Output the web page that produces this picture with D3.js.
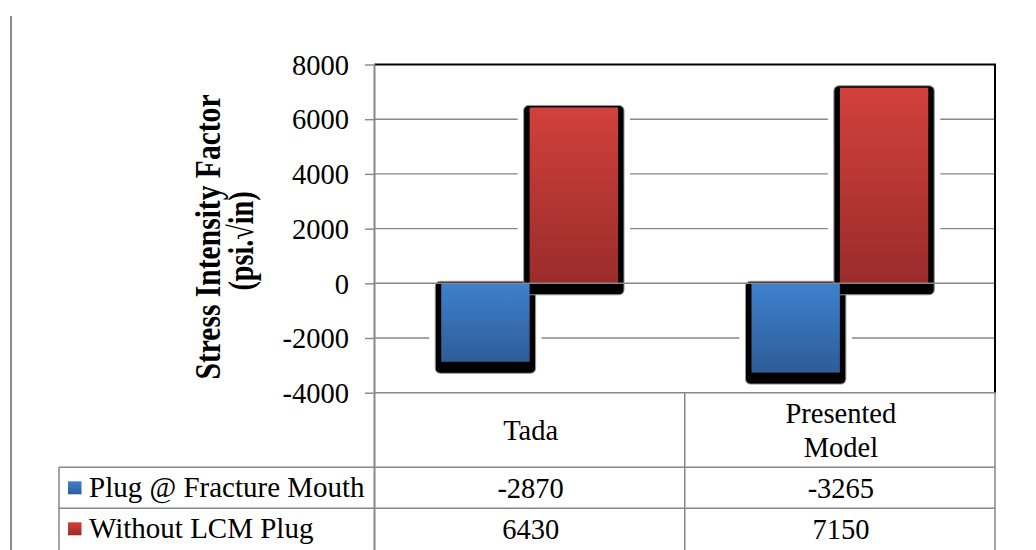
<!DOCTYPE html>
<html>
<head>
<meta charset="utf-8">
<script src="https://cdn.jsdelivr.net/npm/d3@7/dist/d3.min.js"></script>
<style>
  html, body { margin: 0; padding: 0; background: #fff; }
  svg { display: block; }
  text { font-family: "Liberation Serif", "Times New Roman", serif; fill: #000; }
</style>
</head>
<body>
<svg id="chart" width="1036" height="550"></svg>
<script>
// ---- data ----
const categories = ["Tada", "Presented Model"];
const categoryLabelLines = [["Tada"], ["Presented", "Model"]];
const seriesNames = ["Plug @ Fracture Mouth", "Without LCM Plug"];
const plugAtMouth = [-2870, -3265];
const withoutPlug = [6430, 7150];
const yTicks = [-4000, -2000, 0, 2000, 4000, 6000, 8000];
const yTitleLines = ["Stress Intensity Factor", "(psi.\u221Ain)"];

const seriesValues = [plugAtMouth, withoutPlug];

// ---- layout ----
const svg = d3.select("#chart");
const plot = { left: 374.5, right: 995, top: 64.5, bottom: 392.7 };
const rowLines = [467.3, 508.3, 549.3];
const tableLeft = 59;
const barWidth = 88.4;
const gridColor = "#878787";

const y = d3.scaleLinear().domain([d3.min(yTicks), d3.max(yTicks)]).range([plot.bottom, plot.top]);
const x = d3.scaleBand().domain(categories).range([plot.left, plot.right]).padding(0);
const xs = d3.scaleBand().domain(seriesNames).range([-barWidth, barWidth]).padding(0);

// gradients for the bar fills
const defs = svg.append("defs");
const gradStops = [["#3E81CE", "#2E5C97"], ["#D2403C", "#9A2C2A"]];
gradStops.forEach((s, i) => {
  const g = defs.append("linearGradient").attr("id", "grad" + i)
    .attr("x1", 0).attr("y1", 0).attr("x2", 0).attr("y2", 1);
  g.append("stop").attr("offset", "0%").attr("stop-color", s[0]);
  g.append("stop").attr("offset", "100%").attr("stop-color", s[1]);
});

// outer frame line on the left
svg.append("line").attr("x1", 11).attr("x2", 11).attr("y1", 16).attr("y2", 550)
  .attr("stroke", "#8a8a8a").attr("stroke-width", 2);

// horizontal gridlines (the zero line is drawn later, above the bars)
svg.append("g").selectAll("line")
  .data(yTicks.filter(t => t !== 0 && t !== d3.min(yTicks) && t !== d3.max(yTicks)))
  .join("line")
  .attr("x1", plot.left).attr("x2", plot.right)
  .attr("y1", d => y(d)).attr("y2", d => y(d))
  .attr("stroke", gridColor).attr("stroke-width", 1.4);

// flatten bars
const bars = [];
seriesNames.forEach((s, si) => {
  categories.forEach((c, ci) => {
    bars.push({ series: s, si, category: c, value: seriesValues[si][ci] });
  });
});
function barBox(d) {
  const x0 = x(d.category) + x.bandwidth() / 2 + xs(d.series);
  const y0 = y(Math.max(0, d.value));
  const y1 = y(Math.min(0, d.value));
  return { x0, x1: x0 + xs.bandwidth(), y0, y1 };
}

// white halo that breaks the gridlines around each bar
svg.append("g").selectAll("rect").data(bars).join("rect")
  .attr("x", d => barBox(d).x0 - 12)
  .attr("y", d => barBox(d).y0 - 8)
  .attr("width", d => xs.bandwidth() + 24)
  .attr("height", d => barBox(d).y1 - barBox(d).y0 + 25)
  .attr("fill", "#fff");

// drop shadows
svg.append("g").selectAll("rect").data(bars).join("rect")
  .attr("x", d => barBox(d).x0 - 6)
  .attr("y", d => barBox(d).y0 - 2)
  .attr("width", d => xs.bandwidth() + 12)
  .attr("height", d => barBox(d).y1 - barBox(d).y0 + 13.5)
  .attr("rx", 5).attr("ry", 5)
  .attr("fill", "#000")
  .attr("stroke", "#9a9a9a").attr("stroke-width", 1);

// bar bodies
svg.append("g").selectAll("rect").data(bars).join("rect")
  .attr("x", d => barBox(d).x0)
  .attr("y", d => barBox(d).y0)
  .attr("width", xs.bandwidth())
  .attr("height", d => barBox(d).y1 - barBox(d).y0)
  .attr("fill", d => `url(#grad${d.si})`);

// zero line on top of the bars
svg.append("line")
  .attr("x1", plot.left).attr("x2", plot.right)
  .attr("y1", y(0)).attr("y2", y(0))
  .attr("stroke", gridColor).attr("stroke-width", 1.4);

// plot border: black top and right edges
svg.append("path")
  .attr("d", `M${plot.left},${y(d3.max(yTicks))}H${plot.right}V${plot.bottom}`)
  .attr("fill", "none").attr("stroke", "#000").attr("stroke-width", 2);

// y axis
const yAxis = d3.axisLeft(y).tickValues(yTicks).tickSize(9.5).tickPadding(16)
  .tickFormat(d => String(d));
const ag = svg.append("g").attr("transform", `translate(${plot.left},0)`).call(yAxis);
ag.select(".domain").remove();
ag.selectAll(".tick line").attr("stroke", gridColor).attr("stroke-width", 1.4);
ag.selectAll(".tick text")
  .attr("font-family", "Liberation Serif").attr("font-size", 28.5)
  .attr("dy", "0.34em").attr("fill", "#000");
svg.append("line").attr("x1", plot.left).attr("x2", plot.left)
  .attr("y1", plot.top).attr("y2", 550)
  .attr("stroke", gridColor).attr("stroke-width", 2);

// y axis title (two rotated lines)
const titleG = svg.append("g");
const titleSpec = [
  { x: 220, y: 237, len: 285 },
  { x: 253, y: 241, len: 99 }
];
yTitleLines.forEach((t, i) => {
  titleG.append("text")
    .attr("transform", `translate(${titleSpec[i].x},${titleSpec[i].y}) rotate(-90)`)
    .attr("text-anchor", "middle")
    .attr("font-weight", "bold")
    .attr("font-size", 35)
    .attr("textLength", titleSpec[i].len)
    .attr("lengthAdjust", "spacingAndGlyphs")
    .text(t);
});

// data table under the plot
const tg = svg.append("g").attr("stroke", gridColor).attr("stroke-width", 1.5);
tg.append("line").attr("x1", plot.left).attr("x2", plot.right)
  .attr("y1", plot.bottom).attr("y2", plot.bottom);
rowLines.slice(0, 2).forEach(ry => {
  tg.append("line").attr("x1", tableLeft).attr("x2", plot.right).attr("y1", ry).attr("y2", ry);
});
tg.append("line").attr("x1", tableLeft).attr("x2", tableLeft).attr("y1", rowLines[0]).attr("y2", 550);
categories.forEach(c => {
  const xr = x(c) + x.bandwidth();
  tg.append("line").attr("x1", xr).attr("x2", xr).attr("y1", plot.bottom).attr("y2", 550);
});

// category labels
categories.forEach((c, ci) => {
  const lines = categoryLabelLines[ci];
  const cy = (plot.bottom + rowLines[0]) / 2;
  const lh = 34;
  lines.forEach((ln, li) => {
    svg.append("text")
      .attr("x", x(c) + x.bandwidth() / 2 + 1)
      .attr("y", cy + (li - (lines.length - 1) / 2) * lh + 9.8)
      .attr("text-anchor", "middle")
      .attr("font-size", 28.5)
      .text(ln);
  });
});

// legend rows and values
seriesNames.forEach((s, si) => {
  const top = rowLines[si];
  const bottom = rowLines[si + 1];
  const cy = (top + bottom) / 2;
  svg.append("rect")
    .attr("x", 68).attr("y", cy - 6.5)
    .attr("width", 13.5).attr("height", 13)
    .attr("fill", `url(#grad${si})`);
  svg.append("text")
    .attr("x", 89).attr("y", cy + 9.6)
    .attr("font-size", 29)
    .text(s);
  categories.forEach((c, ci) => {
    svg.append("text")
      .attr("x", x(c) + x.bandwidth() / 2 + 1)
      .attr("y", cy + 10.3)
      .attr("text-anchor", "middle")
      .attr("font-size", 28.5)
      .text(String(seriesValues[si][ci]));
  });
});
</script>
</body>
</html>
